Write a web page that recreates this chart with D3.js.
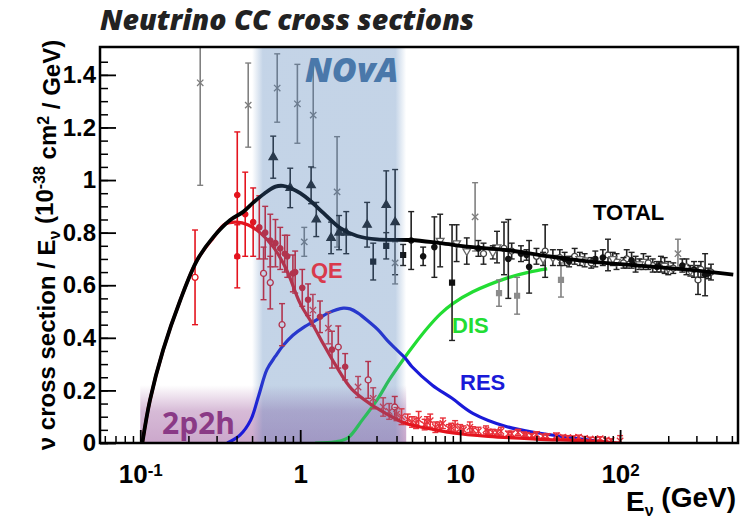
<!DOCTYPE html>
<html>
<head>
<meta charset="utf-8">
<script src="https://cdn.jsdelivr.net/npm/d3@7"></script>
<style>
body { margin: 0; background: #fff; }
svg text { font-family: "Liberation Sans", Arial, sans-serif; font-weight: bold; }
</style>
</head>
<body>
<svg id="chart" width="746" height="519"></svg>
<script>
// model curves (E in GeV, sigma/E in 1e-38 cm2/GeV)
var totalE = [0.103, 0.115, 0.139, 0.178, 0.227, 0.286, 0.365, 0.44, 0.51, 0.6, 0.7, 0.78, 0.866, 1.0, 1.15, 1.4, 1.78, 2.27, 3.03, 4.9, 7.5, 11.5, 20, 34, 65, 100, 275, 510];
var totalV = [0, 0.163, 0.354, 0.544, 0.696, 0.783, 0.848, 0.879, 0.915, 0.95, 0.975, 0.978, 0.97, 0.95, 0.922, 0.874, 0.817, 0.787, 0.774, 0.772, 0.76, 0.746, 0.733, 0.712, 0.69, 0.68, 0.658, 0.64];

var qeE = [0.103, 0.115, 0.139, 0.178, 0.227, 0.286, 0.34, 0.40, 0.47, 0.56, 0.68, 0.82, 1.0, 1.2, 1.4, 1.65, 2.1, 2.8, 3.4, 4.5, 7, 9, 15, 30, 60, 100];
var qeV = [0, 0.163, 0.354, 0.544, 0.696, 0.78, 0.833, 0.84, 0.83, 0.80, 0.745, 0.66, 0.53, 0.45, 0.375, 0.30, 0.205, 0.145, 0.114, 0.076, 0.05, 0.038, 0.025, 0.015, 0.008, 0];

var resE = [0.35, 0.42, 0.49, 0.55, 0.62, 0.7, 0.78, 0.9, 1.05, 1.28, 1.5, 1.86, 2.05, 2.3, 2.7, 3.07, 3.5, 4.0, 4.5, 5.0, 6.7, 8.9, 12, 19.6, 31.6, 51, 88];
var resV = [0, 0.03, 0.087, 0.18, 0.28, 0.33, 0.37, 0.41, 0.44, 0.47, 0.495, 0.513, 0.51, 0.494, 0.46, 0.43, 0.39, 0.355, 0.325, 0.29, 0.22, 0.17, 0.113, 0.062, 0.037, 0.019, 0];

var disE = [1.24, 1.65, 1.99, 2.44, 3.07, 3.6, 4.5, 5.1, 6.3, 7.5, 9, 12, 19.6, 27, 35];
var disV = [0, 0.004, 0.02, 0.087, 0.17, 0.24, 0.325, 0.37, 0.44, 0.49, 0.53, 0.575, 0.627, 0.65, 0.662];

// total CC measurements
var ccE = [0.237, 0.473, 0.718, 0.96, 1.206, 1.70, 0.678, 0.866, 1.06, 1.17, 1.26, 1.56, 1.75, 1.94, 2.62, 2.86, 3.45, 3.45, 3.92, 3.92, 4.4, 4.94, 5.87, 6.9, 7.5, 8.9, 12.4, 9.5, 17, 17.5, 18.8, 20, 22.7, 27, 34, 42.7, 11, 14, 24, 30, 38, 45, 52, 60, 70, 84, 95, 110, 125, 140, 160, 180, 200, 230, 260, 290, 307, 340, 370,
  13, 16, 21, 26, 33, 42, 48, 56, 66, 78, 90, 105, 118, 132, 150, 170, 190, 215, 245, 275, 320, 355];
var ccV = [1.37, 1.285, 1.35, 1.29, 1.247, 0.955, 1.087, 0.97, 0.765, 0.98, 0.85, 0.78, 0.80, 0.80, 0.83, 0.69, 0.905, 0.75, 0.84, 0.685, 0.715, 0.77, 0.71, 0.745, 0.77, 0.61, 0.86, 0.76, 0.745, 0.57, 0.74, 0.70, 0.56, 0.67, 0.73, 0.62, 0.73, 0.72, 0.72, 0.71, 0.705, 0.70, 0.71, 0.695, 0.70, 0.715, 0.69, 0.70, 0.68, 0.69, 0.675, 0.68, 0.665, 0.72, 0.67, 0.66, 0.62, 0.64, 0.65,
  0.74, 0.725, 0.73, 0.715, 0.70, 0.705, 0.69, 0.70, 0.685, 0.705, 0.70, 0.685, 0.695, 0.68, 0.685, 0.67, 0.675, 0.665, 0.675, 0.655, 0.66, 0.645];
var ccErr = [0.39, 0.16, 0.13, 0.15, 0.2, 0.21, 0.08, 0.075, 0.055, 0.07, 0.065, 0.06, 0.065, 0.08, 0.085, 0.07, 0.13, 0.05, 0.2, 0.08, 0.04, 0.11, 0.035, 0.115, 0.1, 0.22, 0.13, 0.07, 0.06, 0.05, 0.1, 0.15, 0.07, 0.1, 0.1, 0.065, 0.05, 0.04, 0.03, 0.03, 0.03, 0.025, 0.03, 0.025, 0.03, 0.06, 0.03, 0.035, 0.03, 0.03, 0.025, 0.03, 0.025, 0.055, 0.03, 0.03, 0.055, 0.08, 0.03,
  0.03, 0.025, 0.03, 0.02, 0.025, 0.03, 0.02, 0.025, 0.02, 0.03, 0.025, 0.02, 0.03, 0.02, 0.025, 0.02, 0.03, 0.02, 0.025, 0.02, 0.03, 0.02];
var ccSym = ["x","x","x","x","x","x","tri","tri","x","tri","tri","tri","tri","tri","tri","sq","tri","sq","tri","x","sq","circ","circ","circ","otri","sq","x","otri","otri","gsq","ocirc","circ","gsq","circ","ocirc","gsq","otri","ocirc","circ","ocirc","otri","circ","ocirc","otri","circ","ocirc","otri","ocirc","circ","otri","ocirc","circ","otri","x","ocirc","circ","ocirc","circ","ocirc",
  "circ","otri","ocirc","circ","otri","ocirc","circ","otri","ocirc","circ","otri","ocirc","circ","otri","ocirc","circ","otri","ocirc","circ","otri","ocirc","circ"];

// quasi-elastic measurements
var qdE = [0.22, 0.404, 0.404, 0.453, 0.508, 0.555, 0.604, 0.65, 0.70, 0.75, 0.83, 0.93, 0.59, 0.65, 0.77, 0.80, 0.90, 1.03, 1.12, 1.2, 1.33, 1.5, 1.58, 1.73, 1.91, 2.3, 2.66, 2.86, 3.3, 3.9, 4.3, 5.0, 5.5, 6, 6.5, 7, 7.8, 8.5, 9.3, 10.5, 11.5, 13, 14.5, 16, 18, 20, 23, 26, 30, 35, 40, 47, 55, 65, 75, 88, 100,
  3.6, 4.0, 4.7, 5.3, 6.2, 7.4, 8.8, 10, 12, 15, 17, 21, 25, 28, 33, 44, 51, 60, 70, 82];
var qdV = [0.63, 0.943, 0.71, 0.87, 0.84, 0.82, 0.80, 0.77, 0.76, 0.74, 0.71, 0.65, 0.645, 0.61, 0.45, 0.72, 0.645, 0.59, 0.545, 0.505, 0.48, 0.437, 0.355, 0.365, 0.29, 0.213, 0.24, 0.17, 0.137, 0.137, 0.1, 0.08, 0.09, 0.07, 0.085, 0.06, 0.075, 0.055, 0.065, 0.05, 0.06, 0.045, 0.05, 0.04, 0.045, 0.035, 0.04, 0.03, 0.033, 0.025, 0.028, 0.02, 0.022, 0.015, 0.017, 0.01, 0.008,
  0.12, 0.11, 0.09, 0.075, 0.08, 0.065, 0.06, 0.055, 0.05, 0.042, 0.04, 0.035, 0.032, 0.028, 0.026, 0.022, 0.02, 0.018, 0.015, 0.012];
var qdErr = [0.18, 0.24, 0.12, 0.16, 0.13, 0.12, 0.10, 0.10, 0.09, 0.08, 0.08, 0.08, 0.1, 0.1, 0.08, 0.07, 0.07, 0.07, 0.06, 0.06, 0.06, 0.06, 0.07, 0.08, 0.05, 0.04, 0.07, 0.04, 0.035, 0.04, 0.03, 0.02, 0.03, 0.02, 0.025, 0.02, 0.02, 0.015, 0.02, 0.015, 0.02, 0.015, 0.015, 0.012, 0.015, 0.01, 0.012, 0.01, 0.01, 0.01, 0.01, 0.008, 0.008, 0.007, 0.007, 0.006, 0.02,
  0.03, 0.025, 0.02, 0.02, 0.02, 0.015, 0.015, 0.015, 0.012, 0.01, 0.01, 0.01, 0.01, 0.008, 0.008, 0.008, 0.007, 0.007, 0.006, 0.006];
var qdSym = ["ocirc","circ","circ","circ","circ","circ","circ","circ","circ","circ","circ","circ","ocirc","ocirc","ocirc","circ","circ","circ","circ","x","circ","x","circ","ocirc","circ","x","ocirc","x","x","ocirc","x","x","x","x","x","x","x","x","x","x","x","x","x","x","x","x","x","x","x","x","x","x","x","x","x","x","x",
  "x","x","x","x","x","x","x","x","x","x","x","x","x","x","x","x","x","x","x","x"];

// shaded regions
var novaRange = [0.5, 4.6];
var mecRange = [0.1, 4.6];
var mecTop = 0.22;

var xTicks = [0.1, 1, 10, 100];
var xTickBase = ["10", "1", "10", "10"];
var xTickExp = ["-1", "", "", "2"];
var yTicks = [0, 0.2, 0.4, 0.6, 0.8, 1, 1.2, 1.4];

var margin = {left: 100, top: 47};
var width = 638;
var height = 396;

var svg = d3.select('#chart');
var x = d3.scaleLog().domain([0.056, 546]).range([0, width]);
var y = d3.scaleLinear().domain([0, 1.506]).range([height, 0]);

var defs = svg.append("defs");
defs.append("clipPath").attr("id", "plotclip")
  .append("rect").attr("width", width).attr("height", height);

var ng = defs.append("linearGradient").attr("id", "novaGrad").attr("x1", 0).attr("x2", 1).attr("y1", 0).attr("y2", 0);
ng.append("stop").attr("offset", 0).attr("stop-color", "#4678b4").attr("stop-opacity", 0);
ng.append("stop").attr("offset", 0.07).attr("stop-color", "#4678b4").attr("stop-opacity", 0.32);
ng.append("stop").attr("offset", 0.93).attr("stop-color", "#4678b4").attr("stop-opacity", 0.32);
ng.append("stop").attr("offset", 1).attr("stop-color", "#4678b4").attr("stop-opacity", 0);

var mg = defs.append("linearGradient").attr("id", "mecGrad").attr("x1", 0).attr("x2", 0).attr("y1", 0).attr("y2", 1);
mg.append("stop").attr("offset", 0).attr("stop-color", "#8c3c8c").attr("stop-opacity", 0);
mg.append("stop").attr("offset", 0.45).attr("stop-color", "#8c3c8c").attr("stop-opacity", 0.35);
mg.append("stop").attr("offset", 1).attr("stop-color", "#8c3c8c").attr("stop-opacity", 0.45);

svg.append("text")
  .attr("x", 100).attr("y", 30)
  .style("font-family", "'Open Sans', sans-serif")
  .style("font-style", "italic")
  .style("font-weight", "800")
  .style("font-size", "28.5px")
  .attr("fill", "#222")
  .text("Neutrino CC cross sections");

var context = svg.append("g")
  .attr("transform", "translate(" + margin.left + "," + margin.top + ")");

var plot = context.append("g").attr("clip-path", "url(#plotclip)");

function toPoints(es, vs) {
  return es.map(function(e, i) { return {x: e, y: vs[i]}; });
}

var line = d3.line()
  .curve(d3.curveCatmullRom.alpha(0.5))
  .x(function(d) { return x(d.x); })
  .y(function(d) { return y(d.y); });

var symbolStyle = {
  x:     {type: d3.symbolTimes, size: 28, fill: "none", stroke: "#7c7c7c"},
  tri:   {type: d3.symbolTriangle, size: 30, fill: "#1c1c1c", stroke: "#1c1c1c"},
  otri:  {type: d3.symbolTriangle, size: 26, fill: "#fff", stroke: "#666", rot: 180},
  sq:    {type: d3.symbolSquare, size: 24, fill: "#111", stroke: "#111"},
  gsq:   {type: d3.symbolSquare, size: 24, fill: "#8c8c8c", stroke: "#8c8c8c"},
  circ:  {type: d3.symbolCircle, size: 22, fill: "#111", stroke: "#111"},
  ocirc: {type: d3.symbolCircle, size: 28, fill: "#fff", stroke: "#444"}
};

function drawData(g, es, vs, errs, syms, red) {
  var pts = es.map(function(e, i) { return {x: e, y: vs[i], err: errs[i], sym: syms[i]}; });
  var item = g.selectAll("g.pt").data(pts).enter().append("g").attr("class", "pt");
  function col(d) {
    if (red) return d.sym == "x" ? "#e8303a" : "#e4141e";
    return d.sym == "x" || d.sym == "gsq" ? "#808080" : "#222";
  }
  item.append("line")
    .attr("x1", function(d) { return x(d.x); }).attr("x2", function(d) { return x(d.x); })
    .attr("y1", function(d) { return y(d.y - d.err); }).attr("y2", function(d) { return y(d.y + d.err); })
    .attr("stroke", col).attr("stroke-width", 1.6);
  [-1, 1].forEach(function(s) {
    item.append("line")
      .attr("x1", function(d) { return x(d.x) - 3; }).attr("x2", function(d) { return x(d.x) + 3; })
      .attr("y1", function(d) { return y(d.y + s * d.err); }).attr("y2", function(d) { return y(d.y + s * d.err); })
      .attr("stroke", col).attr("stroke-width", 1.4);
  });
  item.append("path")
    .attr("d", function(d) { var st = symbolStyle[d.sym]; return d3.symbol().type(st.type).size(st.size)(); })
    .attr("transform", function(d) {
      var st = symbolStyle[d.sym];
      return "translate(" + x(d.x) + "," + y(d.y) + ")" + (st.rot ? " rotate(" + st.rot + ")" : "");
    })
    .attr("fill", function(d) {
      var st = symbolStyle[d.sym];
      if (red) return st.fill == "none" ? "none" : (st.fill == "#fff" ? "#fff" : "#e4141e");
      return st.fill;
    })
    .attr("stroke", function(d) { return red ? col(d) : symbolStyle[d.sym].stroke; })
    .attr("stroke-width", 1.3);
}

// 2p2h region
plot.append("rect")
  .attr("x", x(mecRange[0])).attr("width", x(mecRange[1]) - x(mecRange[0]))
  .attr("y", y(mecTop)).attr("height", y(0) - y(mecTop))
  .attr("fill", "url(#mecGrad)");

plot.append("path").datum(toPoints(disE, disV)).attr("d", line)
  .attr("fill", "none").attr("stroke", "#22dd33").attr("stroke-width", 3.2);
plot.append("path").datum(toPoints(resE, resV)).attr("d", line)
  .attr("fill", "none").attr("stroke", "#1a1ad8").attr("stroke-width", 3.2);

drawData(plot.append("g"), qdE, qdV, qdErr, qdSym, true);
plot.append("path").datum(toPoints(qeE, qeV)).attr("d", line)
  .attr("fill", "none").attr("stroke", "#e4141e").attr("stroke-width", 3.2);

drawData(plot.append("g"), ccE, ccV, ccErr, ccSym, false);
plot.append("path").datum(toPoints(totalE, totalV)).attr("d", line)
  .attr("fill", "none").attr("stroke", "#000").attr("stroke-width", 3.8);

// NOvA energy range
plot.append("rect")
  .attr("x", x(novaRange[0])).attr("width", x(novaRange[1]) - x(novaRange[0]))
  .attr("y", 0).attr("height", height)
  .attr("fill", "url(#novaGrad)");

// axes
var xMinor = [];
[0.01, 0.1, 1, 10, 100].forEach(function(dec) {
  for (var k = 2; k <= 9; k++) if (dec * k > 0.056 && dec * k < 546) xMinor.push(dec * k);
});
var yMinor = d3.range(0, 1.5, 0.05);

context.append("g")
  .attr("transform", "translate(0," + height + ")")
  .call(d3.axisBottom(x).tickValues(xMinor).tickSize(-7).tickFormat(""))
  .call(function(g) { g.select(".domain").remove(); g.selectAll("line").attr("stroke-width", 1.5); });

var xAxis = context.append("g")
  .attr("transform", "translate(0," + height + ")")
  .call(d3.axisBottom(x).tickValues(xTicks).tickSize(-13).tickPadding(22).tickFormat(""));
xAxis.select(".domain").remove();
xAxis.selectAll("line").attr("stroke-width", 1.8);
xAxis.selectAll(".tick text")
  .style("font-size", "26px").attr("fill", "#000").attr("dy", "0.71em")
  .each(function(d, i) {
    var t = d3.select(this);
    t.append("tspan").text(xTickBase[i]);
    if (xTickExp[i]) t.append("tspan").attr("dy", "-0.45em").style("font-size", "17px").text(xTickExp[i]);
  });

context.append("g")
  .call(d3.axisLeft(y).tickValues(yMinor).tickSize(-8).tickFormat(""))
  .call(function(g) { g.select(".domain").remove(); g.selectAll("line").attr("stroke-width", 1.5); });

var yAxis = context.append("g")
  .call(d3.axisLeft(y).tickValues(yTicks).tickSize(-16).tickPadding(4).tickFormat(d3.format("~g")));
yAxis.select(".domain").remove();
yAxis.selectAll("line").attr("stroke-width", 1.8);
yAxis.selectAll(".tick text").style("font-size", "24px").attr("fill", "#000");

context.append("rect")
  .attr("width", width).attr("height", height)
  .attr("fill", "none").attr("stroke", "#000").attr("stroke-width", 2.5);

// labels
var labels = context.append("g");
labels.append("text").attr("x", 205).attr("y", 35).style("font-size", "34px")
  .style("font-family", "'Open Sans', sans-serif").style("font-style", "italic").style("font-weight", "800")
  .attr("fill", "#4a78aa").text("NOvA");
labels.append("text").attr("x", 493).attr("y", 173).style("font-size", "22px").attr("fill", "#000").text("TOTAL");
labels.append("text").attr("x", 211).attr("y", 231).style("font-size", "22px").attr("fill", "#d93a4c").text("QE");
labels.append("text").attr("x", 352).attr("y", 286).style("font-size", "22px").attr("fill", "#22dd33").text("DIS");
labels.append("text").attr("x", 360).attr("y", 343).style("font-size", "22px").attr("fill", "#1a1ad8").text("RES");
labels.append("text").attr("x", 62).attr("y", 387).style("font-size", "30px")
  .style("font-family", "'Open Sans', sans-serif").style("font-weight", "700")
  .attr("fill", "#8a3a86").text("2p2h");

// axis titles
var yt = svg.append("text")
  .attr("transform", "translate(55,245) rotate(-90)")
  .attr("text-anchor", "middle")
  .style("font-size", "24px").attr("fill", "#000");
yt.append("tspan").text("ν cross section / E");
yt.append("tspan").attr("dy", "0.3em").style("font-size", "16px").text("ν");
yt.append("tspan").attr("dy", "-0.3em").text(" (10");
yt.append("tspan").attr("dy", "-0.45em").style("font-size", "16px").text("-38");
yt.append("tspan").attr("dy", "0.45em").text(" cm");
yt.append("tspan").attr("dy", "-0.45em").style("font-size", "16px").text("2");
yt.append("tspan").attr("dy", "0.45em").text(" / GeV)");

var xt = svg.append("text")
  .attr("x", 736).attr("y", 511).attr("text-anchor", "end")
  .style("font-size", "28px").attr("fill", "#000");
xt.append("tspan").text("E");
xt.append("tspan").attr("dy", "0.3em").style("font-size", "16px").text("ν");
xt.append("tspan").attr("dy", "-0.3em").text(" (GeV)");
</script>
</body>
</html>
